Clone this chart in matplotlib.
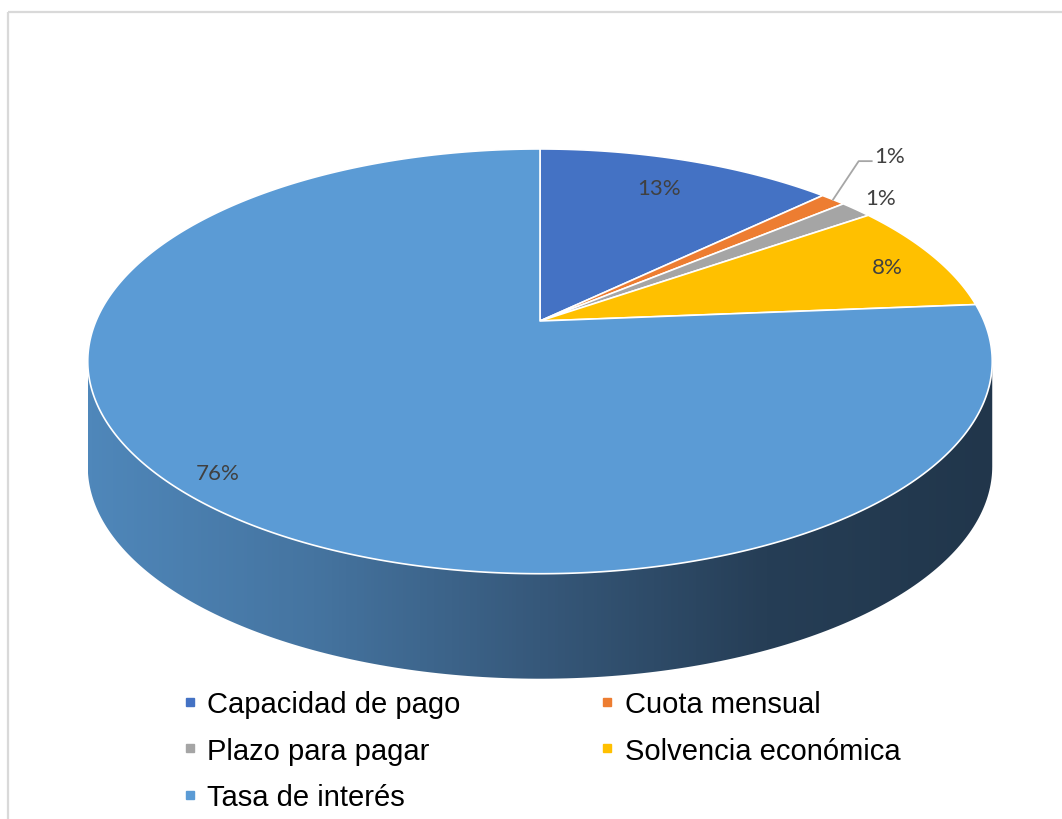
import numpy as np
import matplotlib
matplotlib.use("Agg")
import matplotlib.pyplot as plt
from matplotlib.patches import Polygon
from matplotlib.lines import Line2D
from matplotlib.colors import LinearSegmentedColormap

# data
categories = ["Capacidad de pago", "Cuota mensual", "Plazo para pagar",
              "Solvencia económica", "Tasa de interés"]
shares = [12.8, 1.1, 1.4, 8.4, 76.3]
colors = ["#4472C4", "#ED7D31", "#A5A5A5", "#FFC000", "#5B9BD5"]

# pie geometry (pixels), perspective disc
cx, cy = 540, 322
A, B, k = 444, 204.7, 0.19
depth = 105

# label placement (radius on disc, angle shift in degrees)
label_r = [0.80, 1.33, 1.10, 0.87, 0.91]
label_shift = [0.5, 3.7, 0.7, -1.2, -1.6]


def proj(theta_deg, r=1.0):
    t = np.radians(theta_deg)
    u = r * np.cos(t)
    v = r * np.sin(t)
    s = 1 + k * v
    return cx + A * u / s, cy - B * v / s


fig = plt.figure(figsize=(10.62, 8.2), dpi=100)
ax = fig.add_axes([0, 0, 1, 1])
ax.set_xlim(0, 1062)
ax.set_ylim(820, 0)
ax.axis("off")

# chart border (only top and left visible)
ax.plot([8, 1062], [13, 13], color="#D9D9D9", lw=1.6, solid_capstyle="butt")
ax.plot([8, 8], [13, 820], color="#D9D9D9", lw=1.6, solid_capstyle="butt")

# side of the cylinder (front half)
a0 = 180 + np.degrees(np.arcsin(k))
a1 = 360 - np.degrees(np.arcsin(k))
ts = np.linspace(a0, a1, 200)
top_x, top_y = proj(ts)
side = np.vstack([np.column_stack([top_x, top_y]),
                  np.column_stack([top_x[::-1], top_y[::-1] + depth])])
side_patch = Polygon(side, closed=True, facecolor="none", edgecolor="none")
ax.add_patch(side_patch)
side_cmap = LinearSegmentedColormap.from_list(
    "side", ["#4F87BA", "#4574A0", "#36587A", "#263E56", "#21364B"])
grad = np.linspace(0, 1, 256).reshape(1, -1)
im = ax.imshow(grad, cmap=side_cmap, aspect="auto",
               extent=(top_x.min(), top_x.max(), top_y.max() + depth, top_y.min()))
im.set_clip_path(side_patch)

# top wedges, clockwise from 12 o'clock
start = 90.0
mids = []
for share, col in zip(shares, colors):
    sweep = share * 3.6
    ang = np.linspace(start, start - sweep, max(int(sweep * 2), 4))
    xs, ys = proj(ang)
    pts = np.vstack([[cx, cy], np.column_stack([xs, ys])])
    ax.add_patch(Polygon(pts, closed=True, facecolor=col, edgecolor="white",
                         lw=1.2, joinstyle="round"))
    mids.append(start - sweep / 2)
    start -= sweep

# data labels
for i, share in enumerate(shares):
    lx, ly = proj(mids[i] + label_shift[i], label_r[i])
    ax.text(lx, ly, f"{round(share)}%", family="Lato", fontsize=16,
            color="#404040", ha="center", va="center")
    if label_r[i] > 1.2:
        ex, ey = proj(mids[i], 1.0)
        ax.plot([ex, lx - 31, lx - 18], [ey, ly + 5, ly + 5],
                color="#A6A6A6", lw=1.3)

# legend, row-major order like the reference
order = [0, 2, 4, 1, 3]
handles = [Line2D([], [], marker="s", linestyle="none", markersize=6,
                  color=colors[i]) for i in order]
ax.legend(handles, [categories[i] for i in order], ncol=2, frameon=False,
          loc="upper left", bbox_to_anchor=(181 / 1062, 1 - 691 / 820),
          prop={"family": "Liberation Sans", "size": 21},
          handlelength=0.6, handletextpad=0.3, columnspacing=4.72,
          labelspacing=0.64, borderpad=0, borderaxespad=0)

fig.savefig("out.png", dpi=100)
